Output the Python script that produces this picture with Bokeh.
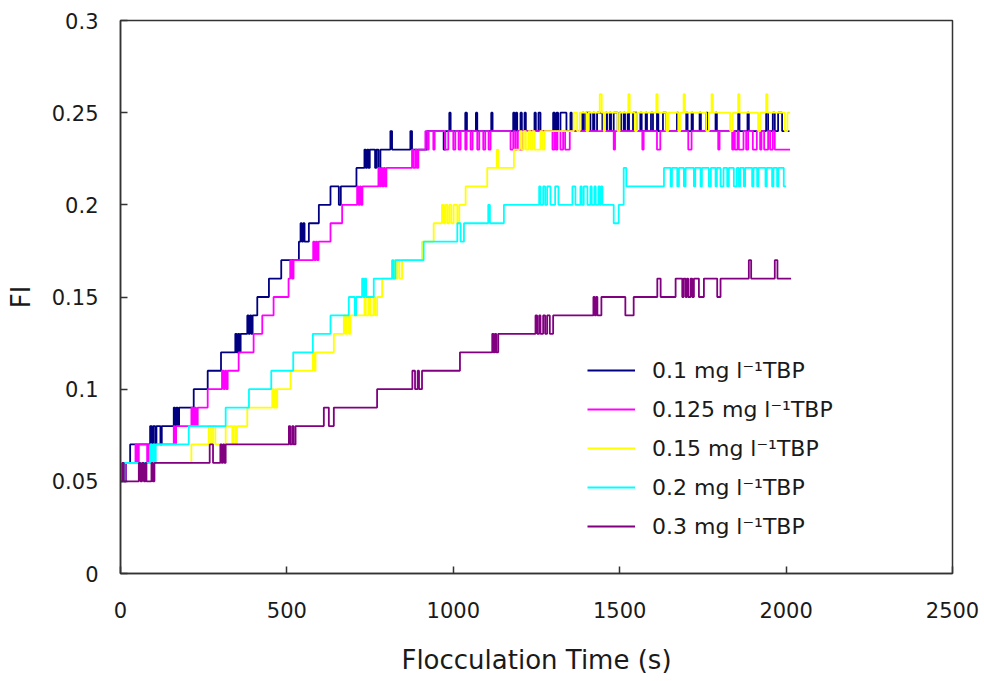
from bokeh.plotting import figure
from bokeh.models import Range1d, FixedTicker
from bokeh.embed import file_html
from bokeh.resources import INLINE

# (time s, FI) change points; drawn as step lines
tbp_010 = [(0,0.05),(8,0.06),(12,0.05),(16,0.06),(29,0.07),(89,0.08),(94,0.07),(98,0.08),(104,0.07),(108,0.08),(120,0.07),(124,0.08),
           (160,0.09),(164,0.08),(168,0.09),(172,0.08),(176,0.09),(220,0.10),(262,0.11),(302,0.12),(345,0.13),(349,0.12),(353,0.13),(357,0.12),(361,0.13),
           (381,0.14),(385,0.13),(389,0.14),(393,0.13),(397,0.14),(411,0.15),(446,0.16),(483,0.17),(536,0.18),(541,0.19),(545,0.18),(549,0.19),(553,0.18),
           (566,0.19),(596,0.20),(631,0.21),(656,0.20),(662,0.21),(709,0.22),(733,0.23),(737,0.22),(741,0.23),(745,0.22),(749,0.23),(765,0.22),(769,0.23),
           (775,0.22),(781,0.23),(811,0.24),(816,0.23),(871,0.24),(876,0.23),(921,0.24),(971,0.23),(976,0.24),(988,0.25),(992,0.24),(1036,0.25),(1041,0.24),
           (1068,0.25),(1072,0.24),(1114,0.25),(1118,0.24),(1180,0.25),(1184,0.24),(1188,0.25),(1192,0.24),(1202,0.25),(1206,0.24),(1214,0.25),(1218,0.24),
           (1244,0.25),(1248,0.24),(1256,0.25),(1262,0.24),(1300,0.25),(1305,0.24),(1310,0.25),(1315,0.24),(1322,0.25),(1340,0.24),(1352,0.25),(1356,0.24),
           (1388,0.25),(1392,0.24),(1398,0.25),(1412,0.24),(1420,0.25),(1424,0.24),(1432,0.25),(1448,0.24),(1458,0.25),(1462,0.24),(1470,0.25),(1474,0.24),
           (1482,0.25),(1494,0.24),(1500,0.25),(1504,0.24),(1512,0.25),(1516,0.24),(1524,0.25),(1528,0.24),(1540,0.25),(1552,0.24),(1562,0.25),(1566,0.24),
           (1578,0.25),(1582,0.24),(1594,0.25),(1600,0.24),(1612,0.25),(1616,0.24),(1630,0.25),(1640,0.24),(1672,0.25),(1676,0.24),(1700,0.25),(1704,0.24),
           (1716,0.25),(1720,0.24),(1740,0.25),(1744,0.24),(1760,0.25),(1764,0.24),(1788,0.25),(1792,0.24),(1856,0.25),(1860,0.24),(1884,0.25),(1888,0.24),
           (1940,0.25),(1946,0.24),(1960,0.25),(1966,0.24),(1976,0.25),(1988,0.24),(2010,0.24)]

tbp_0125 = [(0,0.05),(15,0.06),(45,0.07),(50,0.06),(55,0.07),(80,0.06),(85,0.07),(160,0.08),(163,0.07),(167,0.08),(213,0.09),(218,0.08),(222,0.09),
            (227,0.08),(232,0.09),(262,0.10),(305,0.11),(310,0.10),(314,0.11),(318,0.10),(322,0.11),(355,0.12),(400,0.13),(426,0.14),(460,0.15),(505,0.16),
            (510,0.17),(515,0.16),(520,0.17),(579,0.18),(583,0.17),(587,0.18),(591,0.17),(595,0.18),(631,0.19),(666,0.20),(711,0.21),(715,0.20),(719,0.21),
            (723,0.20),(727,0.21),(775,0.22),(779,0.21),(783,0.22),(787,0.21),(791,0.22),(795,0.21),(799,0.22),(876,0.23),(880,0.22),(886,0.23),(890,0.22),
            (895,0.23),(916,0.24),(922,0.23),(926,0.24),(940,0.23),(944,0.24),(975,0.23),(985,0.24),(1000,0.23),(1006,0.24),(1016,0.23),(1022,0.24),
            (1036,0.23),(1040,0.24),(1052,0.23),(1058,0.24),(1072,0.23),(1078,0.24),(1090,0.23),(1096,0.24),(1106,0.23),(1112,0.24),(1172,0.23),(1180,0.24),
            (1186,0.23),(1192,0.24),(1198,0.23),(1208,0.24),(1298,0.23),(1304,0.24),(1308,0.23),(1313,0.24),(1322,0.23),(1330,0.24),(1336,0.23),(1350,0.24),
            (1482,0.23),(1486,0.24),(1568,0.23),(1572,0.24),(1612,0.23),(1622,0.24),(1706,0.23),(1716,0.24),(1796,0.23),(1800,0.24),(1838,0.23),(1842,0.24),
            (1846,0.23),(1854,0.24),(1858,0.23),(1872,0.24),(1880,0.23),(1886,0.24),(1900,0.23),(1912,0.24),(1922,0.23),(1926,0.24),(1934,0.23),(1946,0.24),
            (1952,0.23),(1960,0.24),(1966,0.23),(2012,0.23)]

tbp_015 = [(0,0.05),(10,0.06),(213,0.07),(265,0.08),(272,0.07),(278,0.08),(285,0.07),(316,0.08),(336,0.07),(340,0.08),(346,0.07),(350,0.08),
           (381,0.09),(456,0.10),(460,0.09),(464,0.10),(468,0.09),(471,0.10),(511,0.11),(578,0.12),(582,0.11),(586,0.12),(641,0.13),(671,0.14),(675,0.13),
           (680,0.14),(686,0.13),(691,0.14),(733,0.15),(737,0.14),(745,0.15),(750,0.14),(760,0.15),(765,0.14),(771,0.15),(786,0.16),(821,0.17),(826,0.16),
           (832,0.17),(838,0.16),(846,0.17),(906,0.18),(941,0.19),(966,0.20),(971,0.19),(976,0.20),(982,0.19),(988,0.20),(994,0.19),(1001,0.20),(1012,0.19),
           (1018,0.20),(1037,0.21),(1102,0.22),(1131,0.23),(1135,0.22),(1182,0.23),(1200,0.24),(1206,0.23),(1212,0.24),(1218,0.23),(1226,0.24),(1232,0.23),
           (1238,0.24),(1244,0.23),(1262,0.24),(1268,0.23),(1274,0.24),(1362,0.25),(1372,0.24),(1380,0.25),(1400,0.24),(1406,0.25),(1440,0.26),(1446,0.25),
           (1452,0.24),(1456,0.25),(1494,0.24),(1500,0.25),(1526,0.26),(1530,0.25),(1546,0.24),(1552,0.25),(1610,0.26),(1614,0.25),(1640,0.24),(1646,0.25),
           (1676,0.24),(1682,0.25),(1692,0.26),(1696,0.25),(1760,0.24),(1768,0.25),(1776,0.26),(1780,0.25),(1832,0.24),(1840,0.25),(1856,0.26),(1860,0.25),
           (1916,0.24),(1922,0.25),(1940,0.26),(1944,0.25),(1996,0.24),(2004,0.25),(2012,0.25)]

tbp_020 = [(0,0.05),(10,0.06),(90,0.07),(94,0.06),(98,0.07),(102,0.06),(106,0.07),(205,0.08),(316,0.09),(386,0.10),(453,0.11),(519,0.12),(578,0.13),
           (631,0.14),(686,0.15),(704,0.14),(708,0.15),(726,0.16),(730,0.15),(734,0.16),(738,0.15),(761,0.16),(816,0.17),(820,0.16),(826,0.17),(911,0.18),
           (1012,0.19),(1022,0.18),(1032,0.19),(1105,0.20),(1110,0.19),(1152,0.20),(1258,0.21),(1262,0.20),(1270,0.21),(1276,0.20),(1282,0.21),(1292,0.20),
           (1306,0.21),(1316,0.20),(1358,0.21),(1367,0.20),(1382,0.21),(1386,0.20),(1392,0.21),(1403,0.20),(1412,0.21),(1416,0.20),(1424,0.21),(1428,0.20),
           (1436,0.21),(1440,0.20),(1444,0.21),(1448,0.20),(1482,0.19),(1497,0.20),(1512,0.22),(1520,0.21),(1633,0.22),(1653,0.21),(1657,0.22),(1673,0.21),
           (1678,0.22),(1693,0.21),(1698,0.22),(1723,0.21),(1727,0.22),(1743,0.21),(1747,0.22),(1768,0.21),(1774,0.22),(1788,0.21),(1792,0.22),(1803,0.21),
           (1812,0.22),(1823,0.21),(1828,0.22),(1843,0.21),(1852,0.22),(1858,0.21),(1862,0.22),(1873,0.21),(1877,0.22),(1898,0.21),(1902,0.22),(1913,0.21),
           (1917,0.22),(1938,0.21),(1942,0.22),(1958,0.21),(1962,0.22),(1973,0.21),(1977,0.22),(1993,0.21),(2000,0.21)]

tbp_030 = [(0,0.05),(5,0.06),(10,0.05),(55,0.06),(60,0.05),(65,0.06),(70,0.05),(75,0.06),(78,0.05),(93,0.06),(97,0.05),(102,0.06),(268,0.07),
           (278,0.06),(300,0.07),(304,0.06),(308,0.07),(312,0.06),(316,0.07),(506,0.08),(510,0.07),(516,0.08),(520,0.07),(526,0.08),(611,0.09),(626,0.08),
           (641,0.09),(771,0.10),(877,0.11),(885,0.10),(893,0.11),(897,0.10),(906,0.11),(1020,0.12),(1117,0.13),(1121,0.12),(1125,0.13),(1129,0.12),
           (1135,0.13),(1247,0.14),(1252,0.13),(1258,0.14),(1262,0.13),(1270,0.14),(1276,0.13),(1282,0.14),(1290,0.13),(1300,0.14),(1421,0.15),(1425,0.14),
           (1429,0.15),(1433,0.14),(1445,0.15),(1517,0.14),(1542,0.15),(1613,0.16),(1623,0.15),(1668,0.16),(1688,0.15),(1692,0.16),(1698,0.15),(1702,0.16),
           (1706,0.15),(1713,0.16),(1718,0.15),(1723,0.16),(1738,0.15),(1753,0.16),(1793,0.15),(1803,0.16),(1888,0.17),(1895,0.16),(1966,0.17),(1974,0.16),
           (2015,0.16)]

series_labels = ["0.1 mg l\u207b\u00b9TBP", "0.125 mg l\u207b\u00b9TBP", "0.15 mg l\u207b\u00b9TBP",
                 "0.2 mg l\u207b\u00b9TBP", "0.3 mg l\u207b\u00b9TBP"]
series_colors = ["#000080", "#FF00FF", "#FFFF00", "#00FFFF", "#800080"]
series_data = [tbp_010, tbp_0125, tbp_015, tbp_020, tbp_030]

x_ticks = [0, 500, 1000, 1500, 2000, 2500]
y_ticks = [0, 0.05, 0.1, 0.15, 0.2, 0.25, 0.3]

FONT = "DejaVu Sans"
TXT = "#1a1a1a"

p = figure(width=984, height=681, output_backend="svg", toolbar_location=None,
           x_range=Range1d(0, 2500), y_range=Range1d(0, 0.3),
           min_border_left=120, min_border_right=32, min_border_top=20, min_border_bottom=108)
p.background_fill_color = "white"
p.border_fill_color = "white"
p.outline_line_color = "#333333"
p.outline_line_width = 1.5
p.xgrid.visible = False
p.ygrid.visible = False

for data, lab, col in zip(series_data, series_labels, series_colors):
    t, v = zip(*data)
    p.step(list(t), list(v), mode="after", line_color=col, line_width=1.8, legend_label=lab)

for ax in (p.xaxis[0], p.yaxis[0]):
    ax.axis_line_color = "#333333"
    ax.axis_line_width = 1.5
    ax.major_tick_line_color = "#333333"
    ax.major_tick_line_width = 1.5
    ax.major_tick_in = 7
    ax.major_tick_out = 0
    ax.minor_tick_line_color = None
    ax.major_label_text_font = FONT
    ax.major_label_text_font_size = "21px"
    ax.major_label_text_color = TXT
    ax.axis_label_text_font = FONT
    ax.axis_label_text_font_size = "26px"
    ax.axis_label_text_font_style = "normal"
    ax.axis_label_text_color = TXT

p.xaxis.ticker = FixedTicker(ticks=x_ticks)
p.yaxis.ticker = FixedTicker(ticks=y_ticks)
p.xaxis.major_label_overrides = {0: "0", 500: "500", 1000: "1000", 1500: "1500", 2000: "2000", 2500: "2500"}
p.yaxis.major_label_overrides = {0: "0", 0.05: "0.05", 0.1: "0.1", 0.15: "0.15", 0.2: "0.2", 0.25: "0.25", 0.3: "0.3"}
p.xaxis.axis_label = "Flocculation Time (s)"
p.yaxis.axis_label = "FI"
p.xaxis.major_label_standoff = 28
p.yaxis.major_label_standoff = 22
p.xaxis.axis_label_standoff = 24
p.yaxis.axis_label_standoff = 13

lg = p.legend[0]
lg.location = (467, 34)
lg.border_line_color = None
lg.background_fill_alpha = 0
lg.padding = 0
lg.margin = 0
lg.glyph_width = 48
lg.glyph_height = 26
lg.label_height = 26
lg.spacing = 13
lg.label_standoff = 17
lg.label_text_font = FONT
lg.label_text_font_size = "22px"
lg.label_text_color = TXT

open("out.html", "w").write(file_html(p, INLINE))
